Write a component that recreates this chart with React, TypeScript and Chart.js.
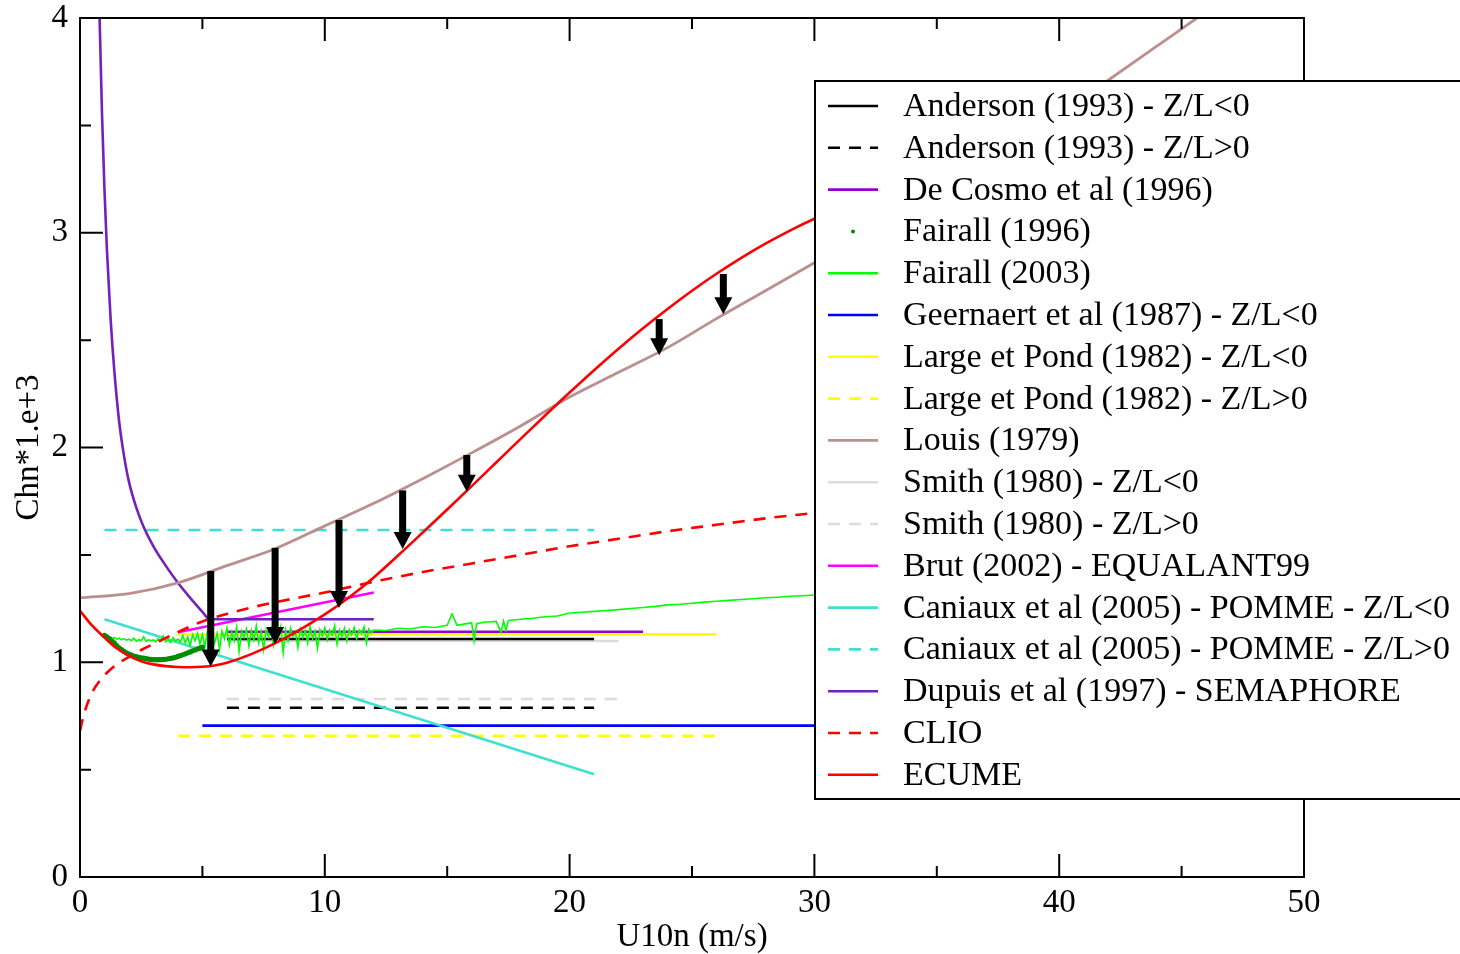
import React, { useEffect, useRef } from "react";
import { Chart, registerables } from "chart.js";

Chart.register(...registerables);

const SERIF = "'Liberation Serif', 'Times New Roman', Times, serif";

// ---- axis ticks ----
const xMajorTicks = [0, 10, 20, 30, 40, 50];
const xMinorTicks = [5, 15, 25, 35, 45];
const yMajorTicks = [0, 1, 2, 3, 4];
const yMinorTicks = [0.5, 1.5, 2.5, 3.5];

// ---- horizontal / straight parametrisations ----
const andersonX = [6, 21];
const andersonUnstableY = [1.108, 1.108];
const andersonStableY = [0.788, 0.788];

const deCosmoX = [6, 23];
const deCosmoY = [1.142, 1.142];

const geernaertX = [5, 40];
const geernaertY = [0.705, 0.705];

const largePondX = [4, 26];
const largePondUnstableY = [1.13, 1.13];
const largePondStableY = [0.657, 0.657];

const smithX = [6, 22];
const smithUnstableY = [1.099, 1.099];
const smithStableY = [0.829, 0.829];

const brutX = [4, 12];
const brutY = [1.14, 1.325];

const caniauxX = [1, 21];
const caniauxUnstableY = [1.2, 0.478];
const caniauxStableY = [1.616, 1.616];

// ---- curves ----
const louisX = [0, 2, 4, 6, 8, 10, 12, 14, 16, 18, 20, 22, 24, 26, 28, 30, 32, 34, 36, 38, 40, 42, 44, 46, 48, 50];
const louisY = [1.3, 1.32, 1.37, 1.45, 1.53, 1.635, 1.74, 1.855, 1.975, 2.1, 2.235, 2.35, 2.465, 2.6, 2.73, 2.86, 2.99, 3.12, 3.26, 3.4, 3.555, 3.71, 3.87, 4.03, 4.2, 4.37];

const ecumeX = [0, 0.5, 1, 1.5, 2, 2.5, 3, 3.5, 4, 4.5, 5, 5.5, 6, 7, 8, 9, 10, 11, 12, 13, 14, 15, 16, 17, 18, 19, 20, 21, 22, 23, 24, 25, 26, 27, 28, 29, 30, 32, 35, 40];
const ecumeY = [1.24, 1.17, 1.115, 1.065, 1.03, 1.005, 0.99, 0.982, 0.978, 0.977, 0.979, 0.985, 0.998, 1.038, 1.09, 1.153, 1.223, 1.303, 1.395, 1.498, 1.604, 1.711, 1.82, 1.93, 2.04, 2.149, 2.256, 2.36, 2.46, 2.555, 2.645, 2.73, 2.809, 2.882, 2.949, 3.01, 3.065, 3.16, 3.28, 3.42];

const clioX = [0, 0.1, 0.25, 0.5, 0.75, 1, 1.5, 2, 2.5, 3, 4, 5, 6, 7, 8, 10, 12, 14, 16, 18, 20, 22, 24, 26, 28, 30, 35, 40];
const clioY = [0.68, 0.73, 0.79, 0.86, 0.905, 0.94, 0.99, 1.025, 1.057, 1.085, 1.14, 1.19, 1.225, 1.255, 1.28, 1.325, 1.375, 1.42, 1.46, 1.5, 1.54, 1.575, 1.61, 1.64, 1.67, 1.695, 1.76, 1.82];

const dupuisX = [0.75, 0.8, 0.9, 1.0, 1.1, 1.25, 1.4, 1.6, 1.8, 2.0, 2.3, 2.6, 3.0, 3.5, 4.0, 4.5, 5.0, 5.3, 12];
const dupuisY = [4.3, 4.0, 3.55, 3.2, 2.92, 2.6, 2.36, 2.12, 1.96, 1.84, 1.72, 1.63, 1.54, 1.45, 1.37, 1.3, 1.235, 1.2, 1.2];

const fairall96X = [1.0, 1.1, 1.2, 1.3, 1.4, 1.5, 1.6, 1.7, 1.8, 1.9, 2.0, 2.1, 2.2, 2.3, 2.4, 2.5, 2.6, 2.7, 2.8, 2.9, 3.0, 3.1, 3.2, 3.3, 3.4, 3.5, 3.6, 3.7, 3.8, 3.9, 4.0, 4.1, 4.2, 4.3, 4.4, 4.5, 4.6, 4.7, 4.8, 4.9, 5.0];
const fairall96Y = [1.125, 1.118, 1.11, 1.1, 1.09, 1.077, 1.067, 1.059, 1.051, 1.044, 1.038, 1.033, 1.029, 1.026, 1.023, 1.021, 1.019, 1.017, 1.015, 1.013, 1.012, 1.012, 1.012, 1.012, 1.013, 1.014, 1.016, 1.018, 1.02, 1.023, 1.027, 1.031, 1.035, 1.039, 1.044, 1.048, 1.053, 1.057, 1.062, 1.066, 1.07];

const fairall03X = [
  1.0, 1.1, 1.2, 1.3, 1.4, 1.5, 1.6, 1.7, 1.8, 1.9,
  2.0, 2.1, 2.2, 2.3, 2.4, 2.5, 2.6, 2.7, 2.8, 2.9,
  3.0, 3.1, 3.2, 3.3, 3.4, 3.5, 3.6, 3.7, 3.8, 3.9,
  4.0, 4.1, 4.2, 4.3, 4.4, 4.5, 4.6, 4.7, 4.8, 4.9,
  5.0, 5.1, 5.2, 5.3, 5.4, 5.5, 5.6, 5.7, 5.8, 5.9,
  6.0, 6.1, 6.2, 6.3, 6.4, 6.5, 6.6, 6.7, 6.8, 6.9,
  7.0, 7.1, 7.2, 7.3, 7.4, 7.5, 7.6, 7.7, 7.8, 7.9,
  8.0, 8.1, 8.2, 8.3, 8.4, 8.5, 8.6, 8.7, 8.8, 8.9,
  9.0, 9.1, 9.2, 9.3, 9.4, 9.5, 9.6, 9.7, 9.8, 9.9,
  10.0, 10.1, 10.2, 10.3, 10.4, 10.5, 10.6, 10.7, 10.8, 10.9,
  11.0, 11.1, 11.2, 11.3, 11.4, 11.5, 11.6, 11.7, 11.8, 11.9,
  12.0, 12.5, 13.0, 13.5, 14.0, 14.5, 15.0, 15.2, 15.4, 15.8,
  16.0, 16.1, 16.2, 16.5, 17.0, 17.2, 17.3, 17.4, 17.5, 18.0,
  18.5, 19.0, 19.5, 20.0, 20.5, 21.0, 21.5, 22.0, 22.5, 23.0,
  23.5, 24.0, 24.5, 25.0, 25.5, 26.0, 26.5, 27.0, 27.5, 28.0,
  28.5, 29.0, 29.5, 30.0, 31.0, 32.0, 33.0, 34.0, 35.0,
];
const fairall03Y = [
  1.128, 1.122, 1.118, 1.112, 1.115, 1.108, 1.112, 1.104, 1.11, 1.103,
  1.108, 1.1, 1.112, 1.098, 1.106, 1.099, 1.118, 1.097, 1.105, 1.1,
  1.104, 1.096, 1.11, 1.098, 1.122, 1.095, 1.106, 1.092, 1.115, 1.098,
  1.108, 1.094, 1.125, 1.09, 1.118, 1.078, 1.128, 1.1, 1.135, 1.085,
  1.13, 1.07, 1.14, 1.105, 1.15, 1.09, 1.135, 1.06, 1.145, 1.11,
  1.16, 1.08, 1.14, 1.1, 1.165, 1.05, 1.145, 1.115, 1.155, 1.075,
  1.148, 1.105, 1.17, 1.09, 1.142, 1.06, 1.15, 1.118, 1.158, 1.08,
  1.145, 1.11, 1.165, 1.045, 1.15, 1.1, 1.16, 1.12, 1.14, 1.07,
  1.155, 1.115, 1.148, 1.09, 1.168, 1.11, 1.145, 1.065, 1.152, 1.12,
  1.16, 1.105, 1.15, 1.125, 1.17, 1.085, 1.15, 1.12, 1.158, 1.1,
  1.152, 1.128, 1.162, 1.11, 1.15, 1.132, 1.165, 1.09, 1.155, 1.135,
  1.15, 1.148, 1.158, 1.155, 1.165, 1.162, 1.172, 1.225, 1.172, 1.18,
  1.183, 1.1, 1.18, 1.186, 1.19, 1.14, 1.192, 1.15, 1.195, 1.2,
  1.205, 1.212, 1.215, 1.229, 1.233, 1.237, 1.241, 1.245, 1.25, 1.255,
  1.26, 1.267, 1.27, 1.275, 1.28, 1.284, 1.288, 1.292, 1.296, 1.3,
  1.303, 1.307, 1.31, 1.313, 1.32, 1.327, 1.333, 1.339, 1.345,
];

// ---- arrows (ECUME vs Louis) ----
const arrowX = [5.34, 7.97, 10.58, 13.18, 15.8, 23.66, 26.28];
const arrowFromY = [1.425, 1.533, 1.662, 1.8, 1.965, 2.598, 2.808];
const arrowToY = [0.98, 1.085, 1.253, 1.527, 1.794, 2.43, 2.62];

const pts = (xs: number[], ys: number[]) => xs.map((x, i) => ({ x, y: ys[i] }));

function lineSet(label: string, xs: number[], ys: number[], color: string, order: number, dashed = false, smooth = false, width = 2.6) {
  return {
    label,
    data: pts(xs, ys),
    borderColor: color,
    backgroundColor: color,
    borderWidth: width,
    borderDash: dashed ? [12, 9] : [],
    showLine: true,
    pointRadius: 0,
    pointHoverRadius: 0,
    fill: false,
    tension: 0,
    cubicInterpolationMode: smooth ? "monotone" : "default",
    order,
  };
}

const legendPlugin = {
  id: "boxLegend",
  afterDraw(chart: any) {
    const { ctx } = chart;
    const left = 815, top = 81, bottom = 799;
    ctx.save();
    ctx.fillStyle = "#ffffff";
    ctx.fillRect(left, top, 700, bottom - top);
    ctx.strokeStyle = "#000000";
    ctx.lineWidth = 2;
    ctx.strokeRect(left, top, 700, bottom - top);
    ctx.font = `34px ${SERIF}`;
    ctx.textBaseline = "middle";
    ctx.textAlign = "left";
    chart.data.datasets.forEach((ds: any, i: number) => {
      const yy = 106 + i * 41.8;
      if (ds.showLine === false) {
        ctx.fillStyle = ds.pointBackgroundColor;
        ctx.beginPath();
        ctx.arc(853, yy, 2, 0, Math.PI * 2);
        ctx.fill();
      } else {
        ctx.strokeStyle = ds.borderColor;
        ctx.lineWidth = 2.6;
        ctx.setLineDash(ds.borderDash || []);
        ctx.beginPath();
        ctx.moveTo(828, yy);
        ctx.lineTo(878, yy);
        ctx.stroke();
        ctx.setLineDash([]);
      }
      ctx.fillStyle = "#000000";
      ctx.fillText(ds.label, 903, yy + 1);
    });
    ctx.restore();
  },
};

const framePlugin = {
  id: "frameTicks",
  afterDatasetsDraw(chart: any) {
    const { ctx, chartArea: a, scales } = chart;
    const xs = scales.x, ys = scales.y;
    ctx.save();
    // arrows
    ctx.fillStyle = "#000000";
    arrowX.forEach((ax, i) => {
      const px = xs.getPixelForValue(ax);
      const p1 = ys.getPixelForValue(arrowFromY[i]);
      const p2 = ys.getPixelForValue(arrowToY[i]);
      const headH = 17, headW = 18, shaft = 7;
      ctx.fillRect(px - shaft / 2, p1, shaft, p2 - p1 - headH + 1);
      ctx.beginPath();
      ctx.moveTo(px - headW / 2, p2 - headH);
      ctx.lineTo(px + headW / 2, p2 - headH);
      ctx.lineTo(px, p2);
      ctx.closePath();
      ctx.fill();
    });
    // frame
    ctx.strokeStyle = "#000000";
    ctx.lineWidth = 2;
    ctx.strokeRect(a.left, a.top, a.right - a.left, a.bottom - a.top);
    // ticks (inward, all four sides)
    const drawX = (v: number, len: number) => {
      const px = xs.getPixelForValue(v);
      ctx.beginPath();
      ctx.moveTo(px, a.bottom);
      ctx.lineTo(px, a.bottom - len);
      ctx.moveTo(px, a.top);
      ctx.lineTo(px, a.top + len);
      ctx.stroke();
    };
    const drawY = (v: number, len: number) => {
      const py = ys.getPixelForValue(v);
      ctx.beginPath();
      ctx.moveTo(a.left, py);
      ctx.lineTo(a.left + len, py);
      ctx.moveTo(a.right, py);
      ctx.lineTo(a.right - len, py);
      ctx.stroke();
    };
    xMajorTicks.forEach((v) => drawX(v, 23));
    xMinorTicks.forEach((v) => drawX(v, 11));
    yMajorTicks.forEach((v) => drawY(v, 23));
    yMinorTicks.forEach((v) => drawY(v, 11));
    ctx.restore();
  },
};

export default function App() {
  const ref = useRef<HTMLCanvasElement>(null);

  useEffect(() => {
    if (!ref.current) return;
    const datasets: any[] = [
      lineSet("Anderson (1993) - Z/L<0", andersonX, andersonUnstableY, "#000000", 13),
      lineSet("Anderson (1993) - Z/L>0", andersonX, andersonStableY, "#000000", 14, true),
      lineSet("De Cosmo et al (1996)", deCosmoX, deCosmoY, "#9400D3", 10),
      {
        label: "Fairall (1996)",
        data: pts(fairall96X, fairall96Y),
        showLine: false,
        pointRadius: 2.6,
        pointHoverRadius: 0,
        pointBorderWidth: 0,
        pointBackgroundColor: "#008B00",
        backgroundColor: "#008B00",
        borderColor: "#008B00",
        order: 3,
      },
      lineSet("Fairall (2003)", fairall03X, fairall03Y, "#00FF00", 6, false, false, 1.6),
      lineSet("Geernaert et al (1987) - Z/L<0", geernaertX, geernaertY, "#0000FF", 17),
      lineSet("Large et Pond (1982) - Z/L<0", largePondX, largePondUnstableY, "#FFFF00", 11),
      lineSet("Large et Pond (1982) - Z/L>0", largePondX, largePondStableY, "#FFFF00", 12, true),
      lineSet("Louis (1979)", louisX, louisY, "#BC8F8F", 4, false, true, 2.8),
      lineSet("Smith (1980) - Z/L<0", smithX, smithUnstableY, "#DCDCDC", 15),
      lineSet("Smith (1980) - Z/L>0", smithX, smithStableY, "#DCDCDC", 16, true),
      lineSet("Brut (2002) - EQUALANT99", brutX, brutY, "#FF00FF", 7),
      lineSet("Caniaux et al (2005) - POMME - Z/L<0", caniauxX, caniauxUnstableY, "#40E0D0", 8),
      lineSet("Caniaux et al (2005) - POMME - Z/L>0", caniauxX, caniauxStableY, "#40E0D0", 9, true),
      lineSet("Dupuis et al (1997) - SEMAPHORE", dupuisX, dupuisY, "#7221BC", 5, false, true),
      lineSet("CLIO", clioX, clioY, "#FF0000", 2, true, true),
      lineSet("ECUME", ecumeX, ecumeY, "#FF0000", 1, false, true),
    ];

    const chart = new Chart(ref.current, {
      type: "scatter",
      data: { datasets },
      options: {
        animation: false,
        responsive: false,
        devicePixelRatio: 1,
        events: [],
        layout: { padding: { top: 18, right: 156, bottom: 0, left: 0 } },
        plugins: {
          legend: { display: false },
          tooltip: { enabled: false },
        },
        scales: {
          x: {
            type: "linear",
            position: "bottom",
            min: 0,
            max: 50,
            afterFit: (s: any) => {
              s.height = 77;
            },
            ticks: {
              stepSize: 10,
              color: "#000000",
              padding: 10,
              maxRotation: 0,
              autoSkip: false,
              font: { family: SERIF, size: 33, lineHeight: 1 },
            },
            grid: { display: false, drawTicks: false },
            border: { display: false },
            title: {
              display: true,
              text: "U10n (m/s)",
              color: "#000000",
              padding: 0,
              font: { family: SERIF, size: 33, lineHeight: 1 },
            },
          },
          y: {
            type: "linear",
            position: "left",
            min: 0,
            max: 4,
            afterFit: (s: any) => {
              s.width = 80;
            },
            ticks: {
              stepSize: 1,
              color: "#000000",
              padding: 12,
              font: { family: SERIF, size: 33, lineHeight: 0.2 },
            },
            grid: { display: false, drawTicks: false },
            border: { display: false },
            title: {
              display: true,
              text: "Chn*1.e+3",
              color: "#000000",
              padding: { top: 13, bottom: 0 },
              font: { family: SERIF, size: 33, lineHeight: 1 },
            },
          },
        },
      } as any,
      plugins: [framePlugin, legendPlugin],
    });
    return () => chart.destroy();
  }, []);

  return (
    <div style={{ position: "absolute", left: 0, top: 0, width: 1460, height: 954, background: "#ffffff" }}>
      <canvas ref={ref} width={1460} height={954} style={{ display: "block", width: 1460, height: 954 }} />
    </div>
  );
}
